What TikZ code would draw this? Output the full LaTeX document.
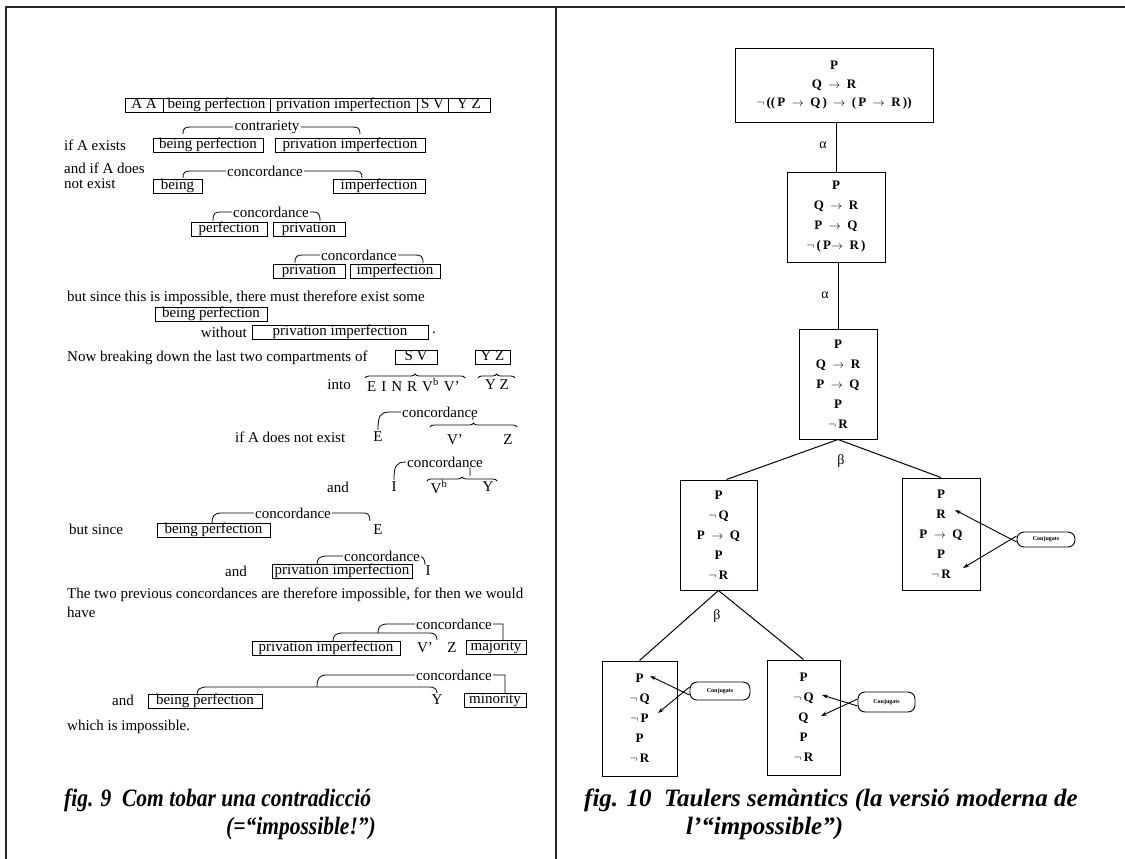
\documentclass[tikz,border=0pt]{standalone}
\usepackage{fontspec}
\usepackage{graphicx}
\setmainfont{Liberation Serif}
\usetikzlibrary{arrows.meta,decorations.pathreplacing,calc}
\newcommand{\lt}{\fontsize{15}{15}\selectfont}
\newcommand{\rtf}{\fontsize{13}{20}\selectfont\bfseries}
\newcommand{\capf}{\fontsize{25}{25}\selectfont\bfseries\itshape}
\newcommand{\myto}{\enspace$\rightarrow$\enspace}
\newcommand{\nt}{$\neg$\,}
% bracket: x1 x2 y drop
\newcommand{\brk}[4]{\draw[brline] (#1,#3+#4) .. controls (#1,#3+1) and (#1+2,#3) .. (#1+8,#3) -- (#2-8,#3) .. controls (#2-2,#3) and (#2,#3+1) .. (#2,#3+#4);}
\tikzset{
  lbox/.style={draw, line width=0.9pt, inner sep=0pt, minimum height=14pt, text height=9.5pt, text depth=3pt, font=\lt},
  tx/.style={inner sep=0pt, anchor=west, font=\lt},
  txc/.style={inner sep=0pt, font=\lt},
  blab/.style={fill=white, inner xsep=1.5pt, inner ysep=0pt, font=\lt},
  brline/.style={line width=0.8pt},
  brc/.style={line width=0.8pt, decorate, decoration={brace, amplitude=4pt}},
  tab/.style={draw, line width=1pt, align=center, inner sep=0pt, font=\rtf},
  conj/.style={draw, line width=0.9pt, rounded corners=7pt, inner sep=0pt, font=\fontsize{6}{6}\selectfont\bfseries},
  carr/.style={line width=0.9pt, -{Stealth[length=6pt,width=4pt]}},
  edge/.style={line width=1pt},
  glab/.style={font=\fontsize{14}{14}\selectfont, inner sep=0pt},
  frame/.style={line width=1.8pt, black!85}
}
\begin{document}
\begin{tikzpicture}[x=1pt,y=-1pt]
\useasboundingbox (0,0) rectangle (1125,859);
% frame
\draw[frame] (6,859) -- (6,7) -- (1125,7);
\draw[frame] (556,7) -- (556,859);

% ===== left panel =====
\node[lbox, minimum width=38pt] (s1) at (144,105) {A A};
\node[lbox, minimum width=107pt] (s2) at (216.5,105) {being perfection};
\node[lbox, minimum width=147pt] (s3) at (343.5,105) {privation imperfection};
\node[lbox, minimum width=31pt] (s4) at (432.5,105) {S V};
\node[lbox, minimum width=42pt] (s5) at (469,105) {Y Z};

\brk{183}{360}{127}{7}
\node[blab] (l1) at (267,127) {contrariety};
\node[tx] (t1) at (64,145) {if A exists};
\node[lbox, minimum width=110pt] (b1) at (208,145) {being perfection};
\node[lbox, minimum width=150pt] (b2) at (350,145) {privation imperfection};

\brk{183}{362}{171}{7}
\node[blab] (l2) at (265,171) {concordance};
\node[tx] (t2) at (64,168) {and if A does};
\node[tx] (t3) at (64,184) {not exist};
\node[lbox, minimum width=49pt] (b3) at (177.5,186.5) {being};
\node[lbox, minimum width=92pt] (b4) at (379,186.5) {imperfection};

\brk{213}{320}{212}{9}
\node[blab] (l3) at (271,212) {concordance};
\node[lbox, minimum width=76pt] (b5) at (229,229) {perfection};
\node[lbox, minimum width=72pt] (b6) at (309,229) {privation};

\brk{295}{423}{255}{8}
\node[blab] (l4) at (359,255) {concordance};
\node[lbox, minimum width=72pt] (b7) at (309,271) {privation};
\node[lbox, minimum width=90pt] (b8) at (395,271) {imperfection};

\node[tx] (t4) at (67,298) {but since this is impossible, there must therefore exist some};
\node[lbox, minimum width=112pt] (b9) at (211,314) {being perfection};
\node[tx, anchor=east] (t5) at (247,332) {without};
\node[lbox, minimum width=176pt] (b10) at (340,332.5) {privation imperfection};
\node[tx] (t6) at (432,333) {.};

\node[tx] (t7) at (67,358) {Now breaking down the last two compartments of};
\node[lbox, minimum width=42pt] (b11) at (416,357.5) {S V};
\node[lbox, minimum width=35pt] (b12) at (492.5,357.5) {Y Z};
\node[tx, anchor=east] (t8) at (351,385) {into};
\node[tx] (t9) at (367,385) {E\,\,I\,\,N\,\,R\,\,V\textsuperscript{b}\,\,V’};
\node[txc] (t10) at (497,385) {Y Z};
\draw[brc] (365,378) -- (465,378);
\draw[brc] (478,378) -- (515,378);

\node[tx] (t11) at (235,437) {if A does not exist};
\node[txc] (e1) at (378,437) {E};
\node[txc] (v1) at (455,440) {V’};
\node[txc] (z1) at (508,440) {Z};
\draw[brc] (430,427) -- (517,427);
\draw[brline] (378,430) .. controls (378,416) and (380,412) .. (390,412) -- (466,412) .. controls (471,412) and (473,414) .. (473,420);
\node[blab] (l5) at (440,412) {concordance};

\node[tx] (t12) at (327,487) {and};
\node[txc] (i1) at (394,487) {I};
\node[txc] (v2) at (439,487) {V\textsuperscript{b}};
\node[txc] (y1) at (488,487) {Y};
\draw[brc] (427,481) -- (497,481);
\draw[brline] (394,480) .. controls (394,466) and (396,462) .. (406,462) -- (470,462) -- (470,476);
\node[blab] (l6) at (445,462) {concordance};

\node[tx] (t13) at (69,529) {but since};
\node[lbox, minimum width=113pt] (b13) at (213.5,530) {being perfection};
\node[txc] (e2) at (378,530) {E};
\draw[brline] (212,523) .. controls (212,516) and (214,513) .. (222,513) -- (364,513) .. controls (368,513) and (370,515) .. (370,521);
\node[blab] (l7) at (293,513) {concordance};

\node[tx] (t14) at (225,571) {and};
\node[lbox, minimum width=140pt] (b14) at (342,571.5) {privation imperfection};
\node[txc] (i2) at (428,571) {I};
\draw[brline] (317,564.5) .. controls (317,559) and (319,556) .. (327,556) -- (418,556) .. controls (422,556) and (425,558) .. (425,565);
\node[blab] (l8) at (382,556) {concordance};

\node[tx] (t15) at (67,595) {The two previous concordances are therefore impossible, for then we would};
\node[tx] (t16) at (67,612) {have};

\node[lbox, minimum width=148pt] (b15) at (326,648.5) {privation imperfection};
\node[txc] (v3) at (425,648) {V’};
\node[txc] (z2) at (452,648) {Z};
\node[lbox, minimum width=60pt] (b16) at (496,647.5) {majority};
\draw[brline] (333,641.5) .. controls (333,636) and (335,633) .. (343,633) -- (430,633) .. controls (434,633) and (437,635) .. (437,640);
\draw[brline] (378,633) .. controls (378,627) and (380,624) .. (388,624) -- (503,624) -- (503,640.5);
\node[blab] (l9) at (454,624) {concordance};

\node[tx] (t17) at (112,700) {and};
\node[lbox, minimum width=114pt] (b17) at (205,701.5) {being perfection};
\node[txc] (y2) at (437,700) {Y};
\node[lbox, minimum width=62pt] (b18) at (495,700.5) {minority};
\draw[brline] (197,694.5) .. controls (197,690) and (199,687) .. (207,687) -- (430,687) .. controls (434,687) and (437,689) .. (437,693);
\draw[brline] (317,687) .. controls (317,679) and (319,675) .. (327,675) -- (505,675) -- (505,693.5);
\node[blab] (l10) at (454,675) {concordance};

\node[tx] (t18) at (67,727) {which is impossible.};

\node[inner sep=0pt, anchor=west, font=\capf] (cap1) at (64,800) {\scalebox{0.86}[1]{fig. 9\enspace Com tobar una contradicció}};
\node[inner sep=0pt, anchor=east, font=\capf] (cap2) at (376,828) {\scalebox{0.86}[1]{(=“impossible!”)}};

% ===== right panel =====
\node[tab, minimum width=198pt, minimum height=73pt, font=\fontsize{13}{18.5}\selectfont\bfseries] (n1) at (834,85.5)
  {P\\ Q\myto R\\ \nt((\,P\myto Q\,)\myto(\,P\myto R\,))};
\node[tab, minimum width=98pt, minimum height=90pt] (n2) at (836,217)
  {P\\ Q\myto R\\ P\myto Q\\ \nt(\,P$\rightarrow$\enspace R\,)};
\node[tab, minimum width=78pt, minimum height=110pt] (n3) at (838,384)
  {P\\ Q\myto R\\ P\myto Q\\ P\\ \nt R};
\node[tab, minimum width=77pt, minimum height=110pt] (n4) at (718.5,535)
  {P\\ \nt Q\\ P\myto Q\\ P\\ \nt R};
\node[tab, minimum width=78pt, minimum height=112pt] (n5) at (941,534)
  {P\\ R\\ P\myto Q\\ P\\ \nt R};
\node[tab, minimum width=75pt, minimum height=115pt] (n6) at (639.5,718.5)
  {P\\ \nt Q\\ \nt P\\ P\\ \nt R};
\node[tab, minimum width=73pt, minimum height=115pt] (n7) at (803.5,717.5)
  {P\\ \nt Q\\ Q\\ P\\ \nt R};

\draw[edge] (n2.north) -- (n2.north |- n1.south);
\draw[edge] (n3.north) -- (n3.north |- n2.south);
\draw[edge] (n3.south) -- ([xshift=8pt]n4.north);
\draw[edge] (n3.south) -- (n5.north);
\draw[edge] (n4.south) -- (n6.north);
\draw[edge] (n4.south) -- (n7.north);

\node[glab] (a1) at (823,145) {α};
\node[glab] (a2) at (825,295) {α};
\node[glab] (g1) at (841,461) {β};
\node[glab] (g2) at (717,616) {β};

\node[conj, minimum width=58pt, minimum height=15pt] (c1) at (1046,539.5) {Conjugats};
\node[conj, minimum width=60pt, minimum height=18pt] (c2) at (720,691) {Conjugats};
\node[conj, minimum width=57pt, minimum height=20pt] (c3) at (886.5,702) {Conjugats};
\coordinate (p1) at (955,510);
\coordinate (p2) at (963,568);
\coordinate (p3) at (650,676);
\coordinate (p4) at (658,713);
\coordinate (p5) at (822,695);
\coordinate (p6) at (821,716);
\draw[carr] ([yshift=-2.5pt]c1.west) -- (p1);
\draw[carr] ([yshift=3.5pt]c1.west) -- (p2);
\draw[carr] ([yshift=-4pt]c2.west) -- (p3);
\draw[carr] ([yshift=4pt]c2.west) -- (p4);
\draw[carr] ([yshift=-4pt]c3.west) -- (p5);
\draw[carr] ([yshift=3pt]c3.west) -- (p6);

\node[inner sep=0pt, anchor=west, font=\capf] (cap3) at (584,800) {fig. 10\enspace Taulers semàntics (la versió moderna de};
\node[inner sep=0pt, anchor=west, font=\capf] (cap4) at (686,828) {l’“impossible”)};
\end{tikzpicture}
\end{document}
